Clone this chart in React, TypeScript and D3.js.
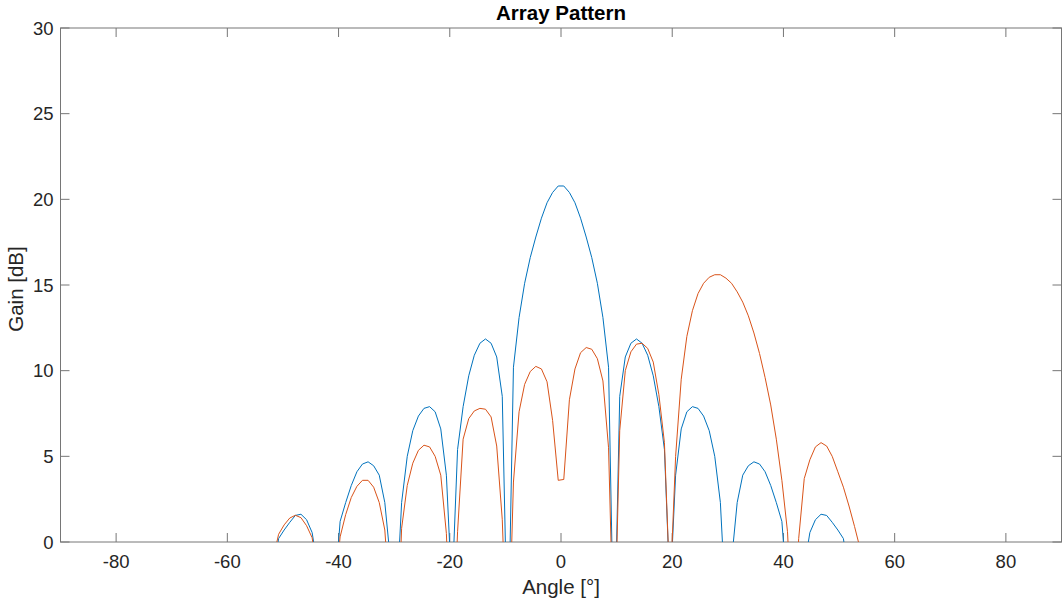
import React from 'react';
import * as d3 from 'd3';

const ANGLES = [
  -55.81, -54.80, -53.80, -52.79, -51.79, -50.78, -49.78, -48.77, -47.77, -46.76,
  -45.75, -44.75, -43.74, -42.74, -41.73, -40.73, -39.72, -38.72, -37.71, -36.70,
  -35.70, -34.69, -33.69, -32.68, -31.68, -30.67, -29.66, -28.66, -27.65, -26.65,
  -25.64, -24.64, -23.63, -22.63, -21.62, -20.61, -19.61, -18.60, -17.60, -16.59,
  -15.59, -14.58, -13.58, -12.57, -11.56, -10.56, -9.55, -8.55, -7.54, -6.54,
  -5.53, -4.53, -3.52, -2.51, -1.51, -0.50,
  0.50, 1.51, 2.51, 3.52, 4.53, 5.53, 6.54, 7.54, 8.55, 9.55,
  10.56, 11.56, 12.57, 13.58, 14.58, 15.59, 16.59, 17.60, 18.60, 19.61,
  20.61, 21.62, 22.63, 23.63, 24.64, 25.64, 26.65, 27.65, 28.66, 29.66,
  30.67, 31.68, 32.68, 33.69, 34.69, 35.70, 36.70, 37.71, 38.72, 39.72,
  40.73, 41.73, 42.74, 43.74, 44.75, 45.75, 46.76, 47.77, 48.77, 49.78,
  50.78, 51.79, 52.79, 53.80, 54.80, 55.81,
];

// Blue series (broadside)
const GAIN_BLUE = [
  -14, -12, -10, -6, -2, 0.2, 0.7, 1.15, 1.55, 1.62,
  1.3, 0.55, -1.5, -8, -6, -3.1, 1.2, 2.3, 3.3, 4.1,
  4.55, 4.68, 4.45, 3.9, 2.3, -1.1, -4, 2.3, 5.0, 6.5,
  7.35, 7.8, 7.9, 7.6, 6.6, 3.9, -3, 5.4, 7.9, 9.7,
  10.9, 11.6, 11.85, 11.6, 10.8, 8.5, -7, 10.2, 13.1, 15.1,
  16.6, 17.8, 18.9, 19.8, 20.4, 20.78,
  20.78, 20.4, 19.8, 18.9, 17.8, 16.6, 15.1, 13.1, 10.2, -7,
  8.5, 10.8, 11.6, 11.85, 11.6, 10.9, 9.7, 7.9, 5.4, -3,
  3.9, 6.6, 7.6, 7.9, 7.8, 7.35, 6.5, 5.0, 2.3, -4,
  -1.1, 2.3, 3.9, 4.45, 4.68, 4.55, 4.1, 3.3, 2.3, 1.2,
  -3.1, -6, -8, -1.5, 0.55, 1.3, 1.62, 1.55, 1.15, 0.7,
  0.2, -2, -6, -10, -12, -14,
];

// Orange series (steered)
const GAIN_ORANGE = [
  -14, -12, -12, -8, -1, 0.45, 1.0, 1.4, 1.56, 1.42,
  0.95, 0.25, -2, -8, -8, -3, 0.3, 1.6, 2.6, 3.25,
  3.6, 3.6, 3.2, 2.3, 0.7, -4, -8, 0.8, 3.3, 4.6,
  5.35, 5.65, 5.55, 5.0, 3.9, 0.5, -8, 0.6, 6.0, 7.2,
  7.65, 7.8, 7.75, 7.3, 5.6, 1.3, -8, 3.5, 7.6, 9.2,
  9.95, 10.25, 10.1, 9.35, 7.1, 3.6,
  3.65, 8.3, 10.1, 11.05, 11.35, 11.25, 10.7, 9.4, 5.5, -7,
  6.5, 10.0, 11.1, 11.55, 11.6, 11.3, 10.5, 8.6, 5.8, -3,
  5.0, 9.5, 12.0, 13.5, 14.5, 15.1, 15.45, 15.6, 15.6, 15.4,
  15.1, 14.6, 14.0, 13.2, 12.2, 11.0, 9.6, 8.0, 6.0, 3.6,
  0.6, -6, 0.2, 3.7, 4.8, 5.55, 5.8, 5.6, 5.0, 4.1,
  3.2, 2.1, 0.9, -0.4, -8, -12,
];

const X_TICKS = [-80, -60, -40, -20, 0, 20, 40, 60, 80];
const Y_TICKS = [0, 5, 10, 15, 20, 25, 30];
const TITLE = 'Array Pattern';
const X_LABEL = 'Angle [°]';
const Y_LABEL = 'Gain [dB]';

const W = 1063;
const H = 605;
const LEFT = 60.5;
const RIGHT = 1061.5;
const TOP = 28;
const BOTTOM = 542;
const AXIS_COLOR = '#767676';
const TEXT_COLOR = '#262626';
const FONT = '"Liberation Sans", Arial, Helvetica, sans-serif';
const TICK_LEN = 9;

export default function App() {
  const x = d3.scaleLinear().domain([-90, 90]).range([LEFT, RIGHT]);
  const y = d3.scaleLinear().domain([0, 30]).range([BOTTOM, TOP]);
  const line = d3
    .line<number>()
    .x((_, i) => x(ANGLES[i]))
    .y((d) => y(d));

  return (
    <div style={{ position: 'absolute', left: 0, top: 0 }}>
      <svg width={W} height={H} style={{ display: 'block', background: '#fff' }} fontFamily={FONT}>
        <defs>
          <clipPath id="plotClip">
            <rect x={LEFT} y={TOP} width={RIGHT - LEFT} height={BOTTOM - TOP} />
          </clipPath>
        </defs>
        <rect x={0} y={0} width={W} height={H} fill="#fff" />
        {/* box */}
        <rect x={LEFT} y={TOP} width={RIGHT - LEFT} height={BOTTOM - TOP} fill="none" stroke={AXIS_COLOR} strokeWidth={1} />
        {/* x ticks */}
        {X_TICKS.map((t) => (
          <g key={'xt' + t}>
            <line x1={x(t)} x2={x(t)} y1={BOTTOM} y2={BOTTOM - TICK_LEN} stroke={AXIS_COLOR} strokeWidth={1} />
            <line x1={x(t)} x2={x(t)} y1={TOP} y2={TOP + TICK_LEN} stroke={AXIS_COLOR} strokeWidth={1} />
            <text x={x(t)} y={568} textAnchor="middle" fontSize={18.5} fill={TEXT_COLOR}>
              {t}
            </text>
          </g>
        ))}
        {/* y ticks */}
        {Y_TICKS.map((t) => (
          <g key={'yt' + t}>
            <line x1={LEFT} x2={LEFT + TICK_LEN} y1={y(t)} y2={y(t)} stroke={AXIS_COLOR} strokeWidth={1} />
            <line x1={RIGHT} x2={RIGHT - TICK_LEN} y1={y(t)} y2={y(t)} stroke={AXIS_COLOR} strokeWidth={1} />
            <text x={53.5} y={y(t)} dy="0.36em" textAnchor="end" fontSize={18.5} fill={TEXT_COLOR}>
              {t}
            </text>
          </g>
        ))}
        {/* data */}
        <g clipPath="url(#plotClip)">
          <path d={line(GAIN_BLUE) || ''} fill="none" stroke="#0072BD" strokeWidth={1} strokeLinejoin="round" />
          <path d={line(GAIN_ORANGE) || ''} fill="none" stroke="#D95319" strokeWidth={1} strokeLinejoin="round" />
        </g>
        {/* labels */}
        <text x={(LEFT + RIGHT) / 2} y={594} textAnchor="middle" fontSize={20.5} fill={TEXT_COLOR}>
          {X_LABEL}
        </text>
        <text transform={`translate(23, ${(TOP + BOTTOM) / 2 + 4}) rotate(-90)`} textAnchor="middle" fontSize={20.5} fill={TEXT_COLOR}>
          {Y_LABEL}
        </text>
        <text x={(LEFT + RIGHT) / 2} y={20} textAnchor="middle" fontSize={20.5} fontWeight="bold" fill="#000">
          {TITLE}
        </text>
      </svg>
    </div>
  );
}
